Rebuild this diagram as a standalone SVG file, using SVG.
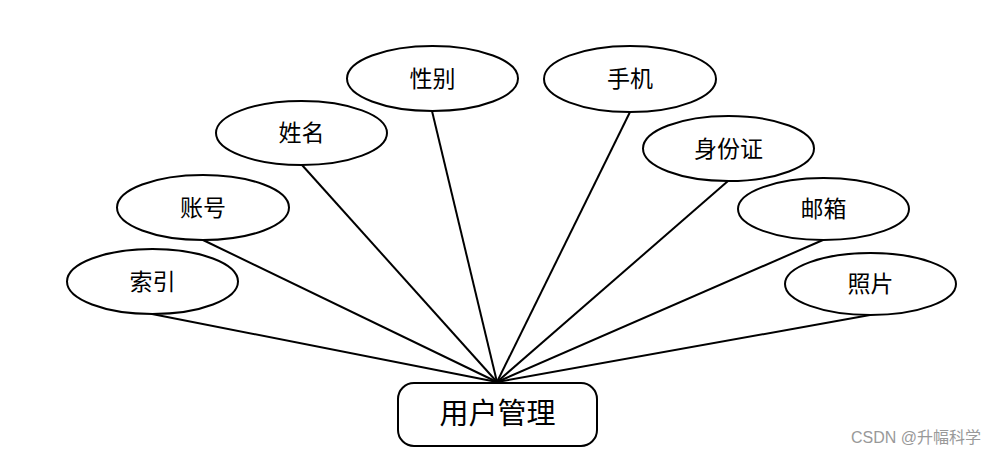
<svg xmlns="http://www.w3.org/2000/svg" width="1003" height="455" viewBox="0 0 1003 455">
<style>
.e{fill:#fff;stroke:#000;stroke-width:2}
.t{font-family:"Liberation Sans","Noto Sans CJK SC",sans-serif;font-size:23px;fill:#000;text-anchor:middle;dominant-baseline:central}
.c line{stroke:#000;stroke-width:2}
</style>
<rect width="1003" height="455" fill="#fff"/>
<g class="c" id="connectors">
<line x1="152" y1="314" x2="497" y2="382"/>
<line x1="203" y1="240" x2="497" y2="382"/>
<line x1="302" y1="165" x2="497" y2="382"/>
<line x1="432" y1="111" x2="497" y2="382"/>
<line x1="630" y1="112" x2="497" y2="382"/>
<line x1="728" y1="181" x2="497" y2="382"/>
<line x1="823" y1="240" x2="497" y2="382"/>
<line x1="870" y1="315" x2="497" y2="382"/>
</g>
<g id="n-suoyin"><ellipse class="e" cx="152.5" cy="281.5" rx="85.5" ry="32.5"/><text class="t" x="152.5" y="282">索引</text></g>
<g id="n-zhanghao"><ellipse class="e" cx="203" cy="207.5" rx="86" ry="32.5"/><text class="t" x="203" y="208">账号</text></g>
<g id="n-xingming"><ellipse class="e" cx="301.5" cy="133" rx="85.5" ry="32"/><text class="t" x="301.5" y="133">姓名</text></g>
<g id="n-xingbie"><ellipse class="e" cx="432.5" cy="78.5" rx="85.5" ry="32.5"/><text class="t" x="432.5" y="79">性别</text></g>
<g id="n-shouji"><ellipse class="e" cx="630" cy="79" rx="86" ry="33"/><text class="t" x="630" y="79">手机</text></g>
<g id="n-shenfenzheng"><ellipse class="e" cx="728.5" cy="148.5" rx="85.5" ry="32.5"/><text class="t" x="728.5" y="149">身份证</text></g>
<g id="n-youxiang"><ellipse class="e" cx="823.5" cy="209" rx="85.5" ry="31"/><text class="t" x="823.5" y="209">邮箱</text></g>
<g id="n-zhaopian"><ellipse class="e" cx="870.5" cy="284" rx="85.5" ry="31"/><text class="t" x="870.5" y="284">照片</text></g>
<g id="n-yonghuguanli"><rect class="e" x="398" y="383" width="199" height="63" rx="16" ry="16"/><text class="t" x="497.5" y="414" style="font-size:29px">用户管理</text></g>
<text x="851" y="443" style="font-family:'Liberation Sans','Noto Sans CJK SC',sans-serif;font-size:16px;fill:#999">CSDN @升幅科学</text>
</svg>
